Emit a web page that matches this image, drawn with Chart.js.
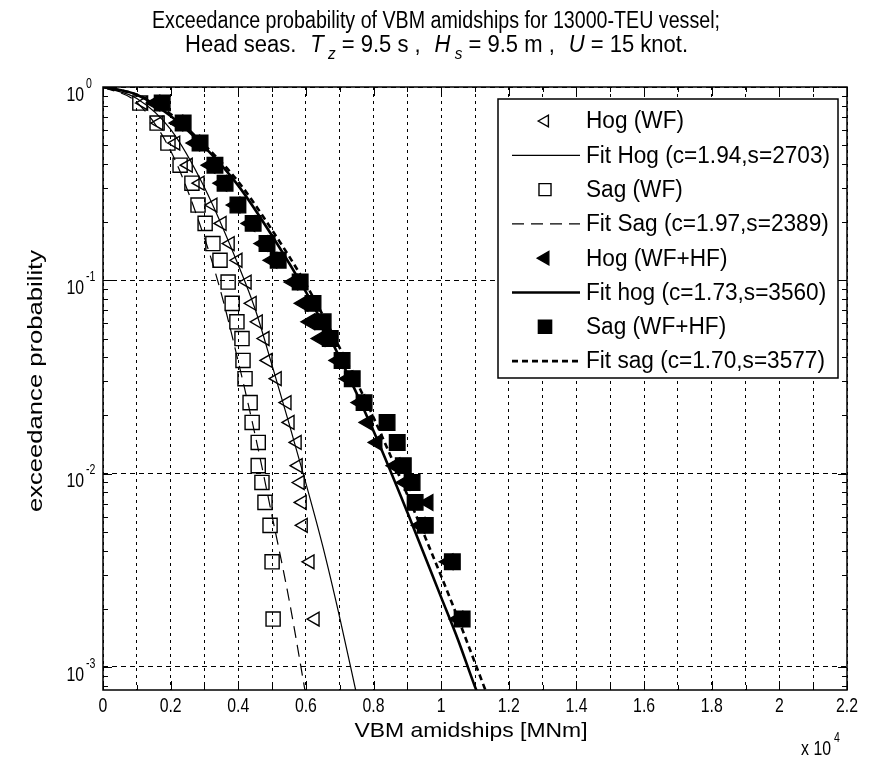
<!DOCTYPE html>
<html lang="en">
<head>
<meta charset="UTF-8">
<title>Exceedance probability of VBM amidships</title>
<script src="https://cdn.jsdelivr.net/npm/chart.js"></script>
<style>
  html, body { margin: 0; padding: 0; background: #fff; }
  canvas { display: block; }
</style>
</head>
<body>
<canvas id="vbmChart" width="873" height="762"></canvas>
<script>
// exceedance levels of the samples (same ranks for all four sample sets)
const probLevels = [0.826, 0.651, 0.513, 0.394, 0.318, 0.245, 0.197, 0.155, 0.127, 0.098, 0.076, 0.061,
                    0.050, 0.0385, 0.031, 0.0233, 0.0184, 0.0145, 0.011, 0.009, 0.0071, 0.0054, 0.0035, 0.00177];

// VBM amidships, units of 10^4 MNm
const hogWfX = [0.120, 0.165, 0.215, 0.252, 0.287, 0.325, 0.352, 0.376, 0.399, 0.426, 0.441, 0.459,
                0.479, 0.488, 0.515, 0.544, 0.553, 0.574, 0.577, 0.583, 0.589, 0.592, 0.612, 0.627];
const sagWfX = [0.109, 0.160, 0.192, 0.228, 0.263, 0.281, 0.302, 0.325, 0.346, 0.370, 0.382, 0.396,
                0.411, 0.414, 0.420, 0.435, 0.441, 0.459, 0.459, 0.470, 0.479, 0.494, 0.500, 0.503];
const hogHfX = [0.154, 0.222, 0.272, 0.317, 0.352, 0.391, 0.435, 0.473, 0.500, 0.562, 0.592, 0.612,
                0.642, 0.695, 0.725, 0.760, 0.784, 0.811, 0.864, 0.893, 0.962, 0.938, 1.021, 1.050];
const sagHfX = [0.175, 0.237, 0.287, 0.331, 0.361, 0.399, 0.444, 0.485, 0.518, 0.583, 0.621, 0.651,
                0.672, 0.707, 0.737, 0.772, 0.840, 0.870, 0.888, 0.914, 0.923, 0.953, 1.033, 1.062];

// fitted curves
const fitHogWfX = [0, 0.1, 0.2, 0.3, 0.4, 0.45, 0.5, 0.55, 0.6, 0.65, 0.7, 0.75];
const fitHogWfP = [1, 0.871, 0.603, 0.302, 0.120, 0.0708, 0.0363, 0.0182, 0.0089, 0.0042, 0.0018, 0.00072];
const fitSagWfX = [0, 0.1, 0.2, 0.3, 0.35, 0.4, 0.45, 0.5, 0.55, 0.6];
const fitSagWfP = [1, 0.832, 0.468, 0.166, 0.0851, 0.0380, 0.0158, 0.00603, 0.00224, 0.00071];
const fitHogHfX = [0, 0.1, 0.2, 0.3, 0.4, 0.5, 0.6, 0.7, 0.8, 0.9, 1.0, 1.05, 1.1, 1.12];
const fitHogHfP = [1, 0.912, 0.708, 0.490, 0.309, 0.170, 0.0871, 0.0398, 0.0166, 0.00631, 0.00229, 0.00138, 0.00079, 0.00065];
const fitSagHfX = [0, 0.1, 0.2, 0.3, 0.4, 0.5, 0.6, 0.7, 0.8, 0.9, 1.0, 1.05, 1.1, 1.15];
const fitSagHfP = [1, 0.912, 0.724, 0.501, 0.324, 0.182, 0.0955, 0.0447, 0.0195, 0.00776, 0.00295, 0.00178, 0.00105, 0.00062];

const seriesLabels = ['Hog (WF)', 'Fit Hog (c=1.94,s=2703)', 'Sag (WF)', 'Fit Sag (c=1.97,s=2389)',
                      'Hog (WF+HF)', 'Fit hog (c=1.73,s=3560)', 'Sag (WF+HF)', 'Fit sag (c=1.70,s=3577)'];

const xTickValues = [0, 0.1, 0.2, 0.3, 0.4, 0.5, 0.6, 0.7, 0.8, 0.9, 1.0, 1.1, 1.2, 1.3, 1.4, 1.5, 1.6, 1.7, 1.8, 1.9, 2.0, 2.1, 2.2];
const xTickLabels = ['0', '0.2', '0.4', '0.6', '0.8', '1', '1.2', '1.4', '1.6', '1.8', '2', '2.2'];
const yTickValues = [1, 0.1, 0.01, 0.001];
const yTickExps = ['0', '-1', '-2', '-3'];

const pts = (xs, ys) => xs.map((x, i) => ({ x: x, y: ys[i] }));
const FONT = '"Liberation Sans", Arial, sans-serif';

function drawText(ctx, str, x, y, opt) {
    opt = opt || {};
    const size = opt.size || 21;
    const sx = opt.sx || 1;
    ctx.save();
    ctx.font = (opt.italic ? 'italic ' : '') + size + 'px ' + FONT;
    const w = ctx.measureText(str).width * sx;
    let left = x;
    if (opt.align === 'center') left = x - w / 2;
    else if (opt.align === 'right') left = x - w;
    ctx.translate(left, y);
    ctx.scale(sx, 1);
    ctx.fillStyle = '#000';
    ctx.textBaseline = 'middle';
    ctx.textAlign = 'left';
    ctx.fillText(str, 0, 0);
    ctx.restore();
    return w;
}

function widthOf(ctx, str, size, italic) {
    ctx.save();
    ctx.font = (italic ? 'italic ' : '') + size + 'px ' + FONT;
    const w = ctx.measureText(str).width;
    ctx.restore();
    return w;
}

const decorations = {
    id: 'decorations',
    afterDatasetsDraw(chart) {
        const { ctx, chartArea: a, scales: { x, y } } = chart;
        ctx.save();
        ctx.strokeStyle = '#000';
        ctx.lineWidth = 1;
        ctx.beginPath();
        xTickValues.forEach((v, i) => {
            const px = Math.round(x.getPixelForValue(v)) + 0.5;
            const len = i % 2 ? 5 : 9;
            ctx.moveTo(px, a.bottom); ctx.lineTo(px, a.bottom - len);
            ctx.moveTo(px, a.top); ctx.lineTo(px, a.top + len);
        });
        for (let k = -4; k <= 0; k++) {
            for (let m = 1; m <= 9; m++) {
                const v = m * Math.pow(10, k);
                if (v < y.min || v > y.max) continue;
                const py = Math.round(y.getPixelForValue(v)) + 0.5;
                const len = m === 1 ? 9 : 5;
                ctx.moveTo(a.left, py); ctx.lineTo(a.left + len, py);
                ctx.moveTo(a.right, py); ctx.lineTo(a.right - len, py);
            }
        }
        ctx.stroke();
        ctx.lineWidth = 1.5;
        ctx.strokeRect(a.left, a.top, a.right - a.left, a.bottom - a.top);
        ctx.restore();
    },
    afterDraw(chart) {
        const { ctx, chartArea: a, scales: { x, y } } = chart;

        // title, two lines
        const t1 = 'Exceedance probability of VBM amidships for 13000-TEU vessel;';
        const sxT = 568 / widthOf(ctx, t1, 23);
        drawText(ctx, t1, 436, 22, { size: 23, sx: sxT, align: 'center' });
        // [text, size, italic, drop, extra gap after]
        const parts = [
            ['Head seas.', 23, false, 0, true], ['T', 23, true, 0, false], [' z', 16, true, 9, false],
            [' = 9.5 s ,', 23, false, 0, true], ['H', 23, true, 0, false], [' s', 16, true, 9, false],
            [' = 9.5 m ,', 23, false, 0, true], ['U', 23, true, 0, false], [' = 15 knot.', 23, false, 0, false]
        ];
        const sx2 = sxT * 1.12;
        let natural = 0;
        parts.forEach(p => { natural += widthOf(ctx, p[0], p[1], p[2]) * sx2; });
        const gap = (503 - natural) / 3;
        let cx = 185;
        parts.forEach(p => {
            cx += drawText(ctx, p[0], cx, 46 + p[3], { size: p[1], italic: p[2], sx: sx2 });
            if (p[4]) cx += gap;
        });

        // x tick labels
        const sxTick = 22 / widthOf(ctx, '0.2', 21);
        xTickLabels.forEach(lbl => {
            drawText(ctx, lbl, x.getPixelForValue(parseFloat(lbl)), 706, { size: 21, sx: sxTick, align: 'center' });
        });
        // y tick labels 10^k
        yTickValues.forEach((v, i) => {
            const py = y.getPixelForValue(v);
            drawText(ctx, '10', 84, py + 8, { size: 21, sx: sxTick, align: 'right' });
            drawText(ctx, yTickExps[i], 86, py - 3, { size: 14, sx: sxTick });
        });
        drawText(ctx, 'x 10', 831, 749, { size: 21, sx: sxTick, align: 'right' });
        drawText(ctx, '4', 834, 738, { size: 14, sx: sxTick });

        // axis titles
        const xl = 'VBM amidships [MNm]';
        drawText(ctx, xl, (a.left + a.right) / 2 - 4, 731, { size: 21, sx: 233 / widthOf(ctx, xl, 21), align: 'center' });
        const yl = 'exceedance probability';
        ctx.save();
        ctx.translate(36, 381);
        ctx.rotate(-Math.PI / 2);
        drawText(ctx, yl, 0, 0, { size: 21, sx: 262 / widthOf(ctx, yl, 21), align: 'center' });
        ctx.restore();

        // legend
        const lx = 498, ly = 99, lw = 340, lh = 279;
        ctx.save();
        ctx.fillStyle = '#fff';
        ctx.fillRect(lx, ly, lw, lh);
        ctx.strokeStyle = '#000';
        ctx.lineWidth = 1.5;
        ctx.strokeRect(lx, ly, lw, lh);
        ctx.restore();
        const sxL = 244 / widthOf(ctx, seriesLabels[1], 23);
        const rowH = 34.3;
        chart.data.datasets.forEach((ds, i) => {
            const cy = 121 + i * rowH;
            ctx.save();
            ctx.strokeStyle = '#000';
            ctx.fillStyle = '#000';
            ctx.lineWidth = ds.borderWidth;
            if (ds.showLine) {
                ctx.setLineDash(ds.borderDash || []);
                ctx.beginPath();
                ctx.moveTo(512, cy); ctx.lineTo(580, cy);
                ctx.stroke();
            } else {
                const r = ds.pointRadius * 0.85;
                ctx.beginPath();
                if (ds.pointStyle === 'rect') {
                    const h = r / Math.SQRT2;
                    ctx.rect(545 - h, cy - h, 2 * h, 2 * h);
                } else {
                    ctx.moveTo(545 - r, cy);
                    ctx.lineTo(545 + r / 2, cy - r * Math.sqrt(3) / 2);
                    ctx.lineTo(545 + r / 2, cy + r * Math.sqrt(3) / 2);
                    ctx.closePath();
                }
                if (ds.backgroundColor === '#000') ctx.fill();
                ctx.stroke();
            }
            ctx.restore();
            drawText(ctx, ds.label, 586, cy + 1, { size: 23, sx: sxL });
        });
    }
};

const markerSet = (label, xs, style, filled, radius) => ({
    label: label,
    data: pts(xs, probLevels),
    showLine: false,
    pointStyle: style,
    pointRotation: style === 'triangle' ? -90 : 0,
    pointRadius: radius,
    pointBorderWidth: 1.4,
    borderWidth: 1.4,
    borderColor: '#000',
    pointBorderColor: '#000',
    backgroundColor: filled ? '#000' : 'rgba(0,0,0,0)',
    pointBackgroundColor: filled ? '#000' : 'rgba(0,0,0,0)'
});
const fitSet = (label, xs, ps, width, dash) => ({
    label: label,
    data: pts(xs, ps),
    showLine: true,
    pointRadius: 0,
    borderColor: '#000',
    borderWidth: width,
    borderDash: dash,
    cubicInterpolationMode: 'monotone',
    fill: false
});

const ctx = document.getElementById('vbmChart').getContext('2d');
const vbmChart = new Chart(ctx, {
    type: 'scatter',
    data: {
        datasets: [
            markerSet(seriesLabels[0], hogWfX, 'triangle', false, 8),
            fitSet(seriesLabels[1], fitHogWfX, fitHogWfP, 1.2, []),
            markerSet(seriesLabels[2], sagWfX, 'rect', false, 10),
            fitSet(seriesLabels[3], fitSagWfX, fitSagWfP, 1.2, [12, 7]),
            markerSet(seriesLabels[4], hogHfX, 'triangle', true, 9),
            fitSet(seriesLabels[5], fitHogHfX, fitHogHfP, 2.6, []),
            markerSet(seriesLabels[6], sagHfX, 'rect', true, 11),
            fitSet(seriesLabels[7], fitSagHfX, fitSagHfP, 2.6, [6, 4])
        ]
    },
    options: {
        responsive: false,
        animation: false,
        layout: { padding: { left: 103, right: 26, top: 87, bottom: 72 } },
        plugins: { legend: { display: false }, tooltip: { enabled: false } },
        scales: {
            x: {
                type: 'linear', min: 0, max: 2.2,
                afterBuildTicks: s => { s.ticks = xTickValues.map(v => ({ value: v })); },
                afterFit: s => { s.height = 0; },
                ticks: { display: false },
                grid: { color: '#000', lineWidth: 1, drawTicks: false },
                border: { display: false, dash: [3, 4] }
            },
            y: {
                type: 'logarithmic', min: 7.6e-4, max: 1,
                afterBuildTicks: s => { s.ticks = yTickValues.map(v => ({ value: v })); },
                afterFit: s => { s.width = 0; },
                ticks: { display: false },
                grid: { color: '#000', lineWidth: 1, drawTicks: false },
                border: { display: false, dash: [5, 4] }
            }
        }
    },
    plugins: [decorations]
});
</script>
</body>
</html>
